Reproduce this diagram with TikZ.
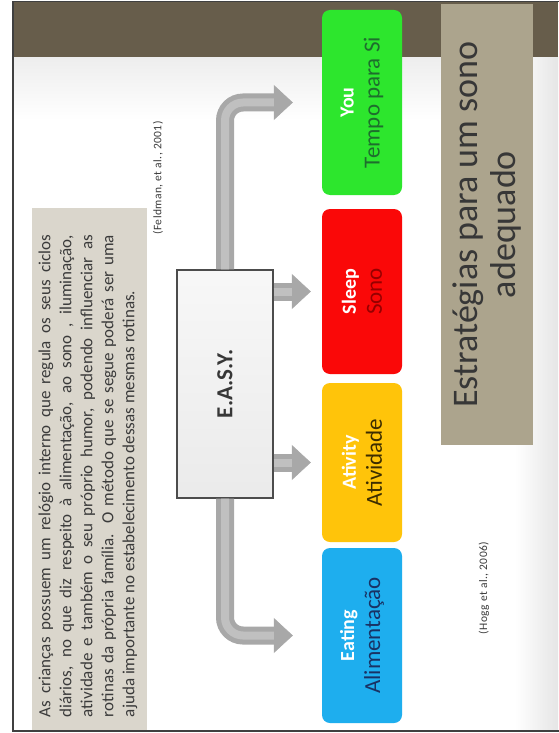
\documentclass[tikz,border=0pt]{standalone}
\usepackage{fontspec}
\setmainfont{Carlito}
\newfontfamily\citefont[LetterSpace=4]{Carlito}
\usetikzlibrary{arrows.meta}
\definecolor{faixa}{RGB}{103,93,75}
\definecolor{titulo}{RGB}{172,164,141}
\definecolor{caixatexto}{RGB}{218,214,204}
\definecolor{cinzatexto}{RGB}{58,58,58}
\definecolor{cinzaescuro}{RGB}{55,55,55}
\definecolor{setacor}{RGB}{168,168,168}
\definecolor{setaclara}{RGB}{192,192,192}
\definecolor{verde}{RGB}{45,230,45}
\definecolor{verdeescuro}{RGB}{30,110,45}
\definecolor{vermelho}{RGB}{250,8,8}
\definecolor{vermelhoescuro}{RGB}{150,0,0}
\definecolor{amarelo}{RGB}{255,196,10}
\definecolor{amareloescuro}{RGB}{60,45,0}
\definecolor{azul}{RGB}{30,174,238}
\definecolor{azulescuro}{RGB}{25,50,100}
\newcommand{\nomebloco}[1]{{\fontsize{20}{26}\selectfont\bfseries\color{white}#1}}

\begin{document}
\begin{tikzpicture}[x=1pt, y=1pt,
        bloco/.style={rounded corners=8pt, rotate=90, minimum height=80pt, align=center, inner sep=2pt, font=\fontsize{23}{26}\selectfont},
        seta/.style={line width=18pt, draw=setacor, rounded corners=18pt, -{Triangle[length=19pt, width=35pt, line width=0.6pt]}},
        brilho/.style={line width=8pt, draw=setaclara, rounded corners=18pt, shorten >=19pt},
        citacao/.style={rotate=90, font=\citefont\fontsize{11.5}{13}\selectfont, text=cinzatexto}]
        \useasboundingbox (0,0) rectangle (558,-733); % Margens
        \fill[white] (0,0) rectangle (558,-733); % Fundo
        \shade[top color=gray!14, bottom color=white] (13,-57) rectangle (558,-120); % Sombra sob a faixa
        \shade[left color=white, right color=gray!20] (515,-57) rectangle (558,-731); % Sombra lateral
        \fill[faixa] (13,-2) rectangle (558,-57); % Faixa superior
        \draw[line width=1.2pt, black!75] (560,-1.5) -- (13,-1.5) -- (13,-731) -- (560,-731); % Moldura

        \fill[caixatexto] (32,-208) rectangle (147,-730); % Caixa do texto
        \node[rotate=90, text width=482pt, align=justify, text=cinzatexto, font=\fontsize{17}{21}\selectfont] (texto) at (88,-476) {As crianças possuem um relógio interno que regula os seus ciclos\linebreak diários, no que diz respeito à alimentação, ao sono , iluminação,\linebreak atividade e também o seu próprio humor, podendo influenciar as\linebreak rotinas da própria família. O método que se segue poderá ser uma\linebreak ajuda importante no estabelecimento dessas mesmas rotinas.};

        \node[rotate=90, fill=titulo, minimum width=441pt, minimum height=92pt, align=center, text=cinzaescuro, font=\fontsize{36}{38}\selectfont] (tit) at (487,-224.5) {Estratégias para um sono\\adequado}; % Titulo

        \node[citacao] (feldman) at (158,-178) {(Feldman, et al., 2001)};
        \node[citacao] (hogg) at (484,-588) {(Hogg et al., 2006)};

        \node[rotate=90, draw=gray!60!black, line width=1.2pt, top color=gray!6, bottom color=gray!16, minimum width=228pt, minimum height=96pt, text=cinzaescuro, font=\fontsize{23}{26}\selectfont\bfseries] (easy) at (225,-384) {E.A.S.Y.};

        \node[bloco, fill=verde, text=verdeescuro, minimum width=185pt] (you) at (362,-102.5) {\nomebloco{You}\\Tempo para Si};
        \node[bloco, fill=vermelho, text=vermelhoescuro, minimum width=165pt] (sleep) at (362,-291.5) {\nomebloco{Sleep}\\Sono};
        \node[bloco, fill=amarelo, text=amareloescuro, minimum width=159pt] (ativity) at (362,-462.5) {\nomebloco{Ativity}\\Atividade};
        \node[bloco, fill=azul, text=azulescuro, minimum width=175pt] (eating) at (362,-635.5) {\nomebloco{Eating}\\Alimentação};

        \draw[seta] (easy.east) |- ([xshift=-29pt]you.north); % Seta para You
        \draw[brilho] (easy.east) |- ([xshift=-29pt]you.north);
        \draw[seta] (easy.south |- sleep.center) -- ([xshift=-11pt]sleep.north); % Seta para Sleep
        \draw[brilho] (easy.south |- sleep.center) -- ([xshift=-11pt]sleep.north);
        \draw[seta] (easy.south |- ativity.center) -- ([xshift=-11pt]ativity.north); % Seta para Ativity
        \draw[brilho] (easy.south |- ativity.center) -- ([xshift=-11pt]ativity.north);
        \draw[seta] (easy.west) |- ([xshift=-29pt]eating.north); % Seta para Eating
        \draw[brilho] (easy.west) |- ([xshift=-29pt]eating.north);
    \end{tikzpicture}
\end{document}
